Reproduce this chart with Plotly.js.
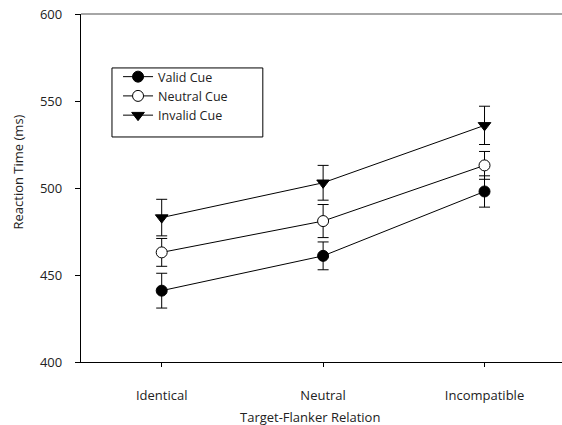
<!DOCTYPE html>
<html>
<head>
<meta charset="utf-8">
<script src="https://cdn.plot.ly/plotly-3.0.1.min.js"></script>
<style>html,body{margin:0;padding:0;background:#fff;}#chart{width:562px;height:425px;}</style>
</head>
<body>
<div id="chart"></div>
<script>
const categories = ["Identical", "Neutral", "Incompatible"];
const validCue = [441, 461, 498];
const validErr = [10, 8, 9];
const neutralCue = [463, 481, 513];
const neutralErr = [8, 9.5, 8];
const invalidCue = [483, 503, 536];
const invalidErr = [10.5, 10, 11];
const seriesNames = ["Valid Cue", "Neutral Cue", "Invalid Cue"];
const yTicks = [400, 450, 500, 550, 600];

const FONT = "Open Sans, DejaVu Sans, sans-serif";
const xIdx = categories.map((_, i) => i);

function trace(name, y, err, symbol, fill) {
  return {
    type: "scatter", mode: "lines+markers", name: name,
    x: xIdx, y: y,
    line: {color: "#000", width: 1},
    marker: {symbol: symbol, size: 11, color: fill, line: {color: "#000", width: 1}},
    error_y: {type: "data", array: err, visible: true, color: "#000", thickness: 1, width: 5.5},
    cliponaxis: false
  };
}

const data = [
  trace(seriesNames[0], validCue, validErr, "circle", "#000"),
  trace(seriesNames[1], neutralCue, neutralErr, "circle", "#fff"),
  trace(seriesNames[2], invalidCue, invalidErr, "triangle-down", "#000")
];

const layout = {
  width: 562, height: 425,
  margin: {l: 81, r: 0, t: 14, b: 63},
  paper_bgcolor: "#fff", plot_bgcolor: "#fff",
  font: {family: FONT, size: 13, color: "#222"},
  showlegend: true,
  legend: {
    x: 0.077, y: 0.862, xanchor: "left", yanchor: "top",
    borderwidth: 0, bgcolor: "rgba(0,0,0,0)",
    font: {family: FONT, size: 12.5, color: "#222"},
    tracegroupgap: 0
  },
  xaxis: {
    range: [-0.5, 2.48],
    tickvals: xIdx, ticktext: categories,
    showgrid: false, zeroline: false,
    showline: true, linecolor: "#000", linewidth: 1.2,
    ticks: "outside", ticklen: 4, tickcolor: "#000", tickwidth: 1,
    ticklabelstandoff: 17,
    fixedrange: true
  },
  yaxis: {
    range: [400, 600],
    tickvals: yTicks,
    showgrid: false, zeroline: false,
    showline: true, linecolor: "#000", linewidth: 1.2,
    ticks: "outside", ticklen: 5, tickcolor: "#000", tickwidth: 1,
    ticklabelstandoff: 10,
    fixedrange: true
  },
  shapes: [
    {type: "line", xref: "paper", yref: "paper", x0: 0, x1: 1, y0: 1, y1: 1,
     line: {color: "#888", width: 1.5}},
    {type: "rect", xref: "paper", yref: "paper", x0: 0.0644, x1: 0.378, y0: 0.6466, y1: 0.845,
     line: {color: "#000", width: 1}, fillcolor: "rgba(0,0,0,0)"}
  ],
  annotations: [
    {text: "Reaction Time (ms)", xref: "paper", yref: "paper", x: -0.132, y: 0.546,
     xanchor: "center", yanchor: "middle",
     textangle: -90, showarrow: false, font: {family: FONT, size: 13, color: "#222"}},
    {text: "Target-Flanker Relation", xref: "paper", yref: "paper", x: 0.476, y: -0.158,
     xanchor: "center", yanchor: "middle",
     showarrow: false, font: {family: FONT, size: 13, color: "#222"}}
  ]
};

Plotly.newPlot("chart", data, layout, {displayModeBar: false, staticPlot: true});
</script>
</body>
</html>
